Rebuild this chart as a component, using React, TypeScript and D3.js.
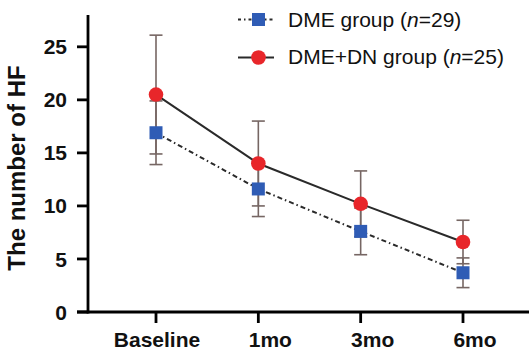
import React from 'react'
import { scaleLinear, scalePoint, line } from 'd3'

const categories = ['Baseline', '1mo', '3mo', '6mo']
const dmeMean = [16.9, 11.6, 7.6, 3.7]
const dmeSd = [3.0, 2.6, 2.2, 1.4]
const dmeDnMean = [20.5, 14.0, 10.2, 6.6]
const dmeDnSd = [5.6, 4.0, 3.1, 2.05]
const yTicks = [0, 5, 10, 15, 20, 25]

const W = 529
const H = 351
const font = "'Liberation Sans', Arial, Helvetica, sans-serif"

const App = () => {
  const x = scalePoint<string>().domain(categories).range([156, 463])
  const y = scaleLinear().domain([0, 28]).range([312, 15])

  const path = line<number>()
    .x((d, i) => x(categories[i]) as number)
    .y(d => y(d))

  const errColor = '#766663'
  const red = '#e8262a'
  const blue = '#2f5cb5'
  const cap = 6.5

  const errBars = (mean: number[], sd: number[], key: string) =>
    mean.map((m, i) => {
      const cx = x(categories[i]) as number
      const y1 = y(m + sd[i])
      const y2 = y(m - sd[i])
      return (
        <g key={key + i} stroke={errColor} strokeWidth={1.6}>
          <line x1={cx} x2={cx} y1={y1} y2={y2} />
          <line x1={cx - cap} x2={cx + cap} y1={y1} y2={y1} />
          <line x1={cx - cap} x2={cx + cap} y1={y2} y2={y2} />
        </g>
      )
    })

  return (
    <svg width={W} height={H} style={{ position: 'absolute', left: 0, top: 0, background: '#fff' }} fontFamily={font}>
      {/* error bars */}
      {errBars(dmeMean, dmeSd, 'a')}
      {errBars(dmeDnMean, dmeDnSd, 'b')}

      {/* lines */}
      <path d={path(dmeMean) || ''} fill="none" stroke="#2a2a2a" strokeWidth={2} strokeDasharray="5,3,1.5,3" />
      <path d={path(dmeDnMean) || ''} fill="none" stroke="#2a2a2a" strokeWidth={2} />

      {/* markers */}
      {dmeMean.map((m, i) => (
        <rect key={'s' + i} x={(x(categories[i]) as number) - 6.5} y={y(m) - 6.5} width={13} height={13} fill={blue} />
      ))}
      {dmeDnMean.map((m, i) => (
        <circle key={'c' + i} cx={x(categories[i]) as number} cy={y(m)} r={7.3} fill={red} />
      ))}

      {/* y axis */}
      <line x1={88} x2={88} y1={y(28)} y2={y(0) + 1.5} stroke="#000" strokeWidth={2.8} />
      {yTicks.map(t => (
        <g key={'yt' + t}>
          <line x1={77} x2={88} y1={y(t)} y2={y(t)} stroke="#000" strokeWidth={2.8} />
          <text x={67} y={y(t)} dy="0.36em" textAnchor="end" fontSize={21} fontWeight="bold" fill="#111">{t}</text>
        </g>
      ))}

      {/* x axis */}
      <line x1={77} x2={W} y1={y(0)} y2={y(0)} stroke="#000" strokeWidth={2.8} />
      {categories.map((c, i) => (
        <g key={'xt' + c}>
          <line x1={x(c) as number} x2={x(c) as number} y1={y(0)} y2={y(0) + 11} stroke="#000" strokeWidth={2.8} />
          <text x={(x(c) as number) + (i === 0 ? 1 : 12)} y={347} textAnchor="middle" fontSize={21} fontWeight="bold" fill="#111">{c}</text>
        </g>
      ))}

      {/* y title */}
      <text transform={`translate(25,168) rotate(-90)`} textAnchor="middle" fontSize={24} fontWeight="bold" fill="#111">The number of HF</text>

      {/* legend */}
      <g>
        <line x1={238} x2={274} y1={19.5} y2={19.5} stroke="#2a2a2a" strokeWidth={2} strokeDasharray="3,3,1.5,3" />
        <rect x={252} y={13} width={13} height={13} fill={blue} />
        <text x={288} y={27} fontSize={21} fill="#111">DME group (<tspan fontStyle="italic">n</tspan>=29)</text>
        <line x1={238} x2={274} y1={57.5} y2={57.5} stroke="#2a2a2a" strokeWidth={2} />
        <circle cx={258.5} cy={57.5} r={7.3} fill={red} />
        <text x={288} y={64} fontSize={21} fill="#111">DME+DN group (<tspan fontStyle="italic">n</tspan>=25)</text>
      </g>
    </svg>
  )
}

export default App
